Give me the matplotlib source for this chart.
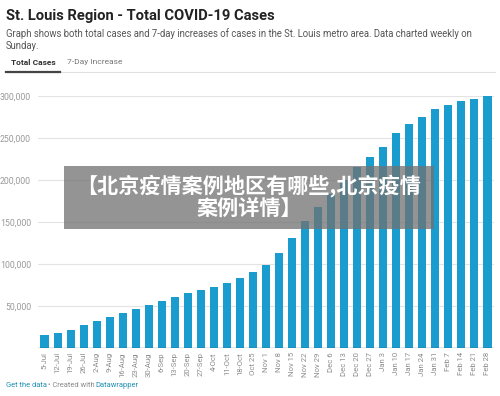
import matplotlib.pyplot as plt
from matplotlib.patches import Rectangle
from matplotlib.ticker import FuncFormatter

plt.rcParams["font.family"] = ["Roboto", "DejaVu Sans"]

weeks = ["5-Jul", "12-Jul", "19-Jul", "26-Jul", "2-Aug", "9-Aug", "16-Aug", "23-Aug",
         "30-Aug", "6-Sep", "13-Sep", "20-Sep", "27-Sep", "4-Oct", "11-Oct", "18-Oct",
         "Oct 25", "Nov 1", "Nov 8", "Nov 15", "Nov 22", "Nov 29", "Dec 6", "Dec 13",
         "Dec 20", "Dec 27", "Jan 3", "Jan 10", "Jan 17", "Jan 24", "Jan 31", "Feb 7",
         "Feb 14", "Feb 21", "Feb 28"]
total_cases = [15500, 18200, 22000, 26800, 31700, 36700, 41300, 46000,
               50600, 55800, 60300, 65000, 69400, 73000, 77400, 83700,
               90500, 98800, 112700, 131000, 151000, 167500, 183700, 200000,
               216000, 227000, 239700, 255500, 266700, 275000, 284000, 289700,
               293700, 296800, 300000]
y_ticks = [50000, 100000, 150000, 200000, 250000, 300000]

bar_color = "#1b9ccf"
grey = "#8c8c8c"

fig = plt.figure(figsize=(5, 3.96), dpi=100)
ax = fig.add_axes([0.076, 0.1212, 0.912, 0.6364])

x = range(len(weeks))
ax.bar(x, total_cases, width=0.62, color=bar_color, zorder=2)
ax.set_xlim(-0.5, len(weeks) - 0.5)
ax.set_ylim(0, 300000)
ax.set_yticks(y_ticks)
ax.yaxis.set_major_formatter(FuncFormatter(lambda v, p: f"{int(v):,}"))
ax.grid(axis="y", color="#e3e3e3", linewidth=0.8, zorder=0)
ax.axhline(0, color="#333333", linewidth=0.9, zorder=3)
for s in ax.spines.values():
    s.set_visible(False)
ax.tick_params(axis="y", length=0, labelsize=6.3, labelcolor="#9a9a9a", pad=5)
ax.set_xticks(list(x))
ax.set_xticklabels(weeks, rotation=90, fontsize=5.6, color=grey)
ax.tick_params(axis="x", length=0, pad=3)

# header
fig.text(0.012, 0.978, "St. Louis Region - Total COVID-19 Cases", fontsize=10.6,
         fontweight="bold", color="#222222", va="top")
fig.text(0.012, 0.93, "Graph shows both total cases and 7-day increases of cases in the St. Louis metro area. Data charted weekly on\nSunday.",
         fontsize=6.85, color="#555555", va="top", linespacing=1.3)
fig.text(0.022, 0.843, "Total Cases", fontsize=6, fontweight="bold", color="#333333", va="center")
fig.text(0.134, 0.843, "7-Day Increase", fontsize=6, color="#777777", va="center")
fig.add_artist(plt.Line2D([0.012, 0.99], [0.818, 0.818], color="#e0e0e0", linewidth=0.8))
fig.add_artist(plt.Line2D([0.012, 0.12], [0.818, 0.818], color="#444444", linewidth=1.6))

# footer
fig.text(0.012, 0.026, "Get the data", fontsize=5.4, color="#1d8fb3", va="center")
fig.text(0.096, 0.026, "\u2022 Created with", fontsize=5.4, color="#888888", va="center")
fig.text(0.19, 0.026, "Datawrapper", fontsize=5.4, color="#1d8fb3", va="center")

# overlay banner
fig.add_artist(Rectangle((0.128, 0.422), 0.74, 0.16, transform=fig.transFigure,
                         facecolor="#707070", alpha=0.75, edgecolor="none", zorder=5))
fig.text(0.498, 0.503, "\u3010北京疫情案例地区有哪些,北京疫情\n案例详情\u3011", fontsize=15.2,
         fontweight="bold", color="white", ha="center", va="center", linespacing=1.05,
         family=["Noto Sans CJK SC", "DejaVu Sans"], zorder=6)

fig.savefig("out.png", dpi=100)
